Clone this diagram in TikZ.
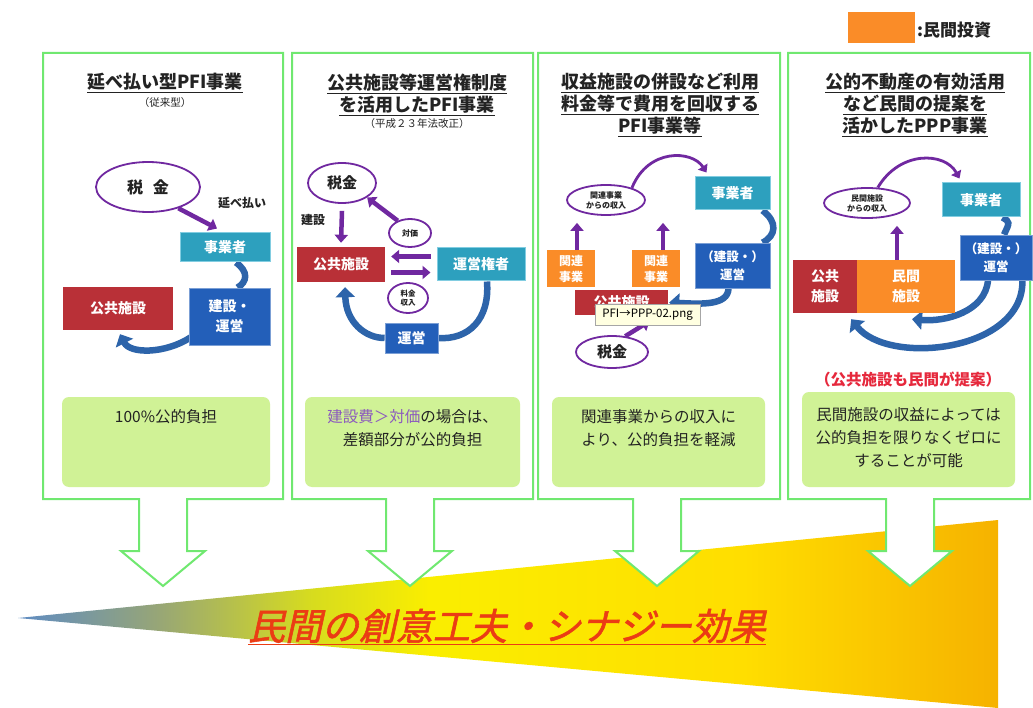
\documentclass[tikz,border=0pt]{standalone}
\usepackage{fontspec}
\setmainfont{Noto Sans CJK JP}
\newfontfamily\slantjp{Noto Sans CJK JP}[FakeSlant=0.22,FakeBold=1.5]
\usetikzlibrary{shapes.geometric,arrows.meta,calc}
\definecolor{frameG}{RGB}{112,232,112}
\definecolor{purp}{RGB}{112,40,160}
\definecolor{tealF}{RGB}{45,160,190}
\definecolor{tealD}{RGB}{130,205,225}
\definecolor{blueF}{RGB}{35,95,185}
\definecolor{redF}{RGB}{185,48,55}
\definecolor{oranF}{RGB}{250,140,40}
\definecolor{sumG}{RGB}{208,242,150}
\definecolor{arrB}{RGB}{45,100,170}
\definecolor{txtD}{RGB}{35,35,35}
\definecolor{noteR}{RGB}{230,40,60}
\definecolor{lav}{RGB}{140,90,190}
\definecolor{bigR}{RGB}{235,60,20}
\definecolor{wA}{RGB}{95,140,195}
\definecolor{wB}{RGB}{150,165,120}
\definecolor{wC}{RGB}{215,220,30}
\definecolor{wD}{RGB}{250,238,0}
\definecolor{wE}{RGB}{255,222,0}
\definecolor{wF}{RGB}{246,178,0}
\pgfdeclarehorizontalshading{wedgeshade}{100bp}{color(0bp)=(wA); color(25bp)=(wA); color(32bp)=(wB); color(40bp)=(wC); color(46bp)=(wD); color(62bp)=(wE); color(75bp)=(wF); color(100bp)=(wF)}
\pgfdeclarelayer{back}
\pgfdeclarelayer{conn}
\pgfsetlayers{back,conn,main}
\newcommand\fs[2]{\fontsize{#1}{#2}\selectfont}
\newcommand\pframe[3]{\draw[frame] (#1,53) -- (#2,53) -- (#2,499) -- ({#3+24},499) -- ({#3+24},551) -- ({#3+42},551) -- (#3,586) -- ({#3-42},551) -- ({#3-24},551) -- ({#3-24},499) -- (#1,499) -- cycle;}
\begin{document}
\begin{tikzpicture}[x=1pt,y=-1pt,
  frame/.style={draw=frameG, line width=2pt, fill=white, line join=miter},
  ell/.style={ellipse, draw=purp, line width=1.8pt, fill=white, inner sep=0pt, text=txtD, align=center},
  boxbase/.style={rectangle, inner sep=1pt, text=white, align=center},
  tealbox/.style={boxbase, fill=tealF, draw=tealD, line width=1pt, font=\bfseries\fs{14}{17}},
  bluebox/.style={boxbase, fill=blueF, draw=blueF!60!white, line width=0.8pt, font=\bfseries\fs{14}{20}},
  redbox/.style={boxbase, fill=redF, font=\bfseries\fs{14}{20}},
  orbox/.style={boxbase, fill=oranF, font=\bfseries\fs{12}{16}},
  parr/.style={draw=purp, line width=4.5pt, -{Triangle[length=8pt,width=13pt]}},
  parrthin/.style={draw=purp, line width=2.8pt, -{Triangle[length=7pt,width=11pt]}},
  bsw/.style={draw=arrB, line width=6.5pt},
  barr/.style={bsw, -{Triangle[length=10pt,width=19pt]}},
  sumbox/.style={rounded corners=7pt, fill=sumG, draw=none, inner sep=0pt},
  sumtxt/.style={text=txtD, font=\fs{15.5}{23}, align=center},
  title/.style={text=txtD, font=\bfseries\fs{18}{22}, align=center},
  subt/.style={text=txtD, font=\fs{10.5}{12}},
  lbl/.style={text=txtD, font=\bfseries\fs{12}{14}}
]
\useasboundingbox (0,0) rectangle (1033,708);
\begin{pgfonlayer}{back}
\shade[shading=wedgeshade] (18,618) -- (998,520) -- (998,708) -- cycle;
\pframe{43}{283}{163}
\pframe{292}{533}{410}
\pframe{538}{780}{657}
\pframe{788}{1030}{910}
\end{pgfonlayer}

% legend
\node[fill=oranF, minimum width=67pt, minimum height=31pt, inner sep=0pt] (legbox) at (881.5,27.5) {};
\node[anchor=west, text=txtD, font=\bfseries\fs{17}{20}, inner sep=0pt] (legtxt) at (917,30) {:民間投資};

% titles
\node[title] (t1) at (165,83) {\underline{延べ払い型PFI事業}};
\node[subt] (t1s) at (165,103) {（従来型）};
\node[title] (t2) at (417,95) {\underline{公共施設等運営権制度}\\\underline{を活用したPFI事業}};
\node[subt] (t2s) at (417,124) {（平成２３年法改正）};
\node[title] (t3) at (660,105) {\underline{収益施設の併設など利用}\\\underline{料金等で費用を回収する}\\\underline{PFI事業等}};
\node[title] (t4) at (915,105) {\underline{公的不動産の有効活用}\\\underline{など民間の提案を}\\\underline{活かしたPPP事業}};

% ---------- panel 1
\node[ell, minimum width=104pt, minimum height=50pt, font=\bfseries\fs{16}{18}] (p1tax) at (148,187) {税\hspace{0.6em}金};
\node[lbl] (p1lbl) at (242,203) {延べ払い};
\node[tealbox, minimum width=90pt, minimum height=29pt] (p1biz) at (225,247.5) {事業者};
\node[bluebox, minimum width=81pt, minimum height=57pt] (p1ops) at (229.5,316.5) {建設・\\運営};
\node[redbox, minimum width=110pt, minimum height=43pt] (p1pub) at (118,308.5) {公共施設};
\begin{pgfonlayer}{conn}
\draw[parr] (p1tax.-35) -- ([xshift=-8pt,yshift=4pt]p1biz.north);
\draw[bsw] ([xshift=11pt]p1biz.south) .. controls (249,272) and (247,282) .. ([xshift=8pt]p1ops.north);
\draw[barr] ([xshift=2pt,yshift=8pt]p1ops.south west) .. controls (165,354) and (130,354) .. ([xshift=2pt,yshift=-4pt]p1pub.south);
\end{pgfonlayer}

% ---------- panel 2
\node[ell, minimum width=68pt, minimum height=40pt, font=\bfseries\fs{15}{18}] (p2tax) at (342,183) {税金};
\node[lbl] (p2lbl) at (313,220) {建設};
\node[redbox, minimum width=88pt, minimum height=35pt] (p2pub) at (341,264.5) {公共施設};
\node[tealbox, minimum width=88pt, minimum height=33pt] (p2op) at (481,264.5) {運営権者};
\node[ell, minimum width=42pt, minimum height=28pt, font=\bfseries\fs{8}{9}] (p2fee) at (410,233) {対価};
\node[ell, minimum width=40pt, minimum height=30pt, font=\bfseries\fs{7.5}{9}] (p2inc) at (408,298) {料金\\収入};
\node[bluebox, minimum width=53pt, minimum height=30pt] (p2run) at (411.5,338) {運営};
\begin{pgfonlayer}{conn}
\draw[parr] ([yshift=-7pt]p2tax.south) -- ([yshift=4pt]p2pub.north);
\draw[parr] (p2fee.135) -- (p2tax.-30);
\draw[parr] ([xshift=-6pt,yshift=8pt]p2op.west) -- ([xshift=6pt,yshift=8pt]p2pub.east);
\draw[parr] ([xshift=6pt,yshift=-8pt]p2pub.east) -- ([xshift=-6pt,yshift=-8pt]p2op.west);
\draw[bsw] ([xshift=6pt]p2op.south) .. controls (490,320) and (468,340) .. (p2run.east);
\draw[barr] (p2run.west) .. controls (365,338) and (346,322) .. ([xshift=4pt,yshift=-5pt]p2pub.south);
\end{pgfonlayer}

% ---------- panel 3
\node[ell, minimum width=78pt, minimum height=30pt, font=\bfseries\fs{8}{10}] (p3inc) at (606,200) {関連事業\\からの収入};
\node[tealbox, minimum width=75pt, minimum height=33pt] (p3biz) at (732.5,193.5) {事業者};
\node[bluebox, minimum width=75pt, minimum height=45pt, font=\bfseries\fs{12.5}{18}] (p3ops) at (732.5,265.5) {（建設・）\\運営};
\node[redbox, minimum width=93pt, minimum height=25pt] (p3pub) at (621.5,302.5) {公共施設};
\node[orbox, minimum width=48pt, minimum height=37pt] (p3rel1) at (571,268.5) {関連\\事業};
\node[orbox, minimum width=48pt, minimum height=37pt] (p3rel2) at (656,268.5) {関連\\事業};
\node[ell, minimum width=72pt, minimum height=32pt, font=\bfseries\fs{15}{18}] (p3tax) at (612,352) {税金};
\begin{pgfonlayer}{conn}
\draw[parr] ($(p3rel1.north)+(6,0)$) -- ($(p3rel1.north |- p3inc.south)+(6,7)$);
\draw[parr] ($(p3rel2.north)+(7,0)$) -- ($(p3rel2.north |- p3inc.south)+(7,7)$);
\draw[parrthin] (p3inc.25) .. controls (648,148) and (692,150) .. ($(p3biz.north west)+(12,-4)$);
\draw[bsw] ([xshift=30pt]p3biz.south) .. controls (778,222) and (776,236) .. ([xshift=30pt]p3ops.north);
\draw[barr] ([xshift=-4pt]p3ops.south) .. controls (728,306) and (700,304) .. ([xshift=1pt]p3pub.east);
\draw[parr] (p3tax.50) -- ($(p3pub.south)+(28,6)$);
\end{pgfonlayer}
\node[fill={rgb,255:red,255;green,255;blue,225}, draw=gray!70, line width=0.8pt, minimum width=105pt, minimum height=21pt, inner sep=1pt, font=\fs{11.5}{13}, text=black] (p3tip) at (647.5,314.5) {PFI→PPP-02.png};

% ---------- panel 4
\node[ell, minimum width=86pt, minimum height=30pt, font=\bfseries\fs{8}{10}] (p4inc) at (867,203) {民間施設\\からの収入};
\node[tealbox, minimum width=78pt, minimum height=34pt] (p4biz) at (981,200) {事業者};
\node[bluebox, minimum width=72pt, minimum height=45pt, font=\bfseries\fs{12.5}{18}] (p4ops) at (996,257.5) {（建設・）\\運営};
\node[redbox, minimum width=64pt, minimum height=53pt] (p4pub) at (825,286.5) {公共\\施設};
\node[orbox, minimum width=98pt, minimum height=53pt, font=\bfseries\fs{14}{20}] (p4priv) at (906,286.5) {民間\\施設};
\node[text=noteR, font=\bfseries\fs{15.5}{18}] (p4note) at (908,380) {（公共施設も民間が提案）};
\begin{pgfonlayer}{conn}
\draw[parr] ($(p4priv.north)+(-9,0)$) -- ($(p4priv.north |- p4inc.south)+(-9,7)$);
\draw[parrthin] (p4inc.55) .. controls (900,150) and (945,152) .. ($(p4biz.north west)+(18,-4)$);
\draw[bsw] ($(p4biz.south east)+(-18,0)$) .. controls (1010,222) .. ($(p4ops.north)+(8,0)$);
\draw[barr] ($(p4ops.south)+(-8,0)$) .. controls (985,312) and (945,322) .. ($(p4priv.south)+(6,6)$);
\draw[barr] ($(p4ops.south east)+(-10,0)$) .. controls (1024,352) and (888,366) .. ($(p4pub.south east)+(-6,6)$);
\end{pgfonlayer}

% ---------- summary boxes
\node[sumbox, minimum width=208pt, minimum height=90pt] (sum1) at (166,442) {};
\node[sumtxt] (sum1t) at (166,417) {100\%公的負担};
\node[sumbox, minimum width=215pt, minimum height=90pt] (sum2) at (412.5,442) {};
\node[sumtxt] (sum2t) at (412.5,428.5) {{\color{lav}建設費＞対価}の場合は、\\差額部分が公的負担};
\node[sumbox, minimum width=213pt, minimum height=90pt] (sum3) at (658.5,442) {};
\node[sumtxt] (sum3t) at (658.5,428.5) {関連事業からの収入に\\より、公的負担を軽減};
\node[sumbox, minimum width=213pt, minimum height=95pt] (sum4) at (908.5,439.5) {};
\node[sumtxt] (sum4t) at (908.5,438) {民間施設の収益によっては\\公的負担を限りなくゼロに\\することが可能};

% ---------- bottom text
\node[text=bigR, font=\slantjp\fs{37}{40}] (bigtxt) at (507,627) {\underline{民間の創意工夫・シナジー効果}};
\end{tikzpicture}
\end{document}
